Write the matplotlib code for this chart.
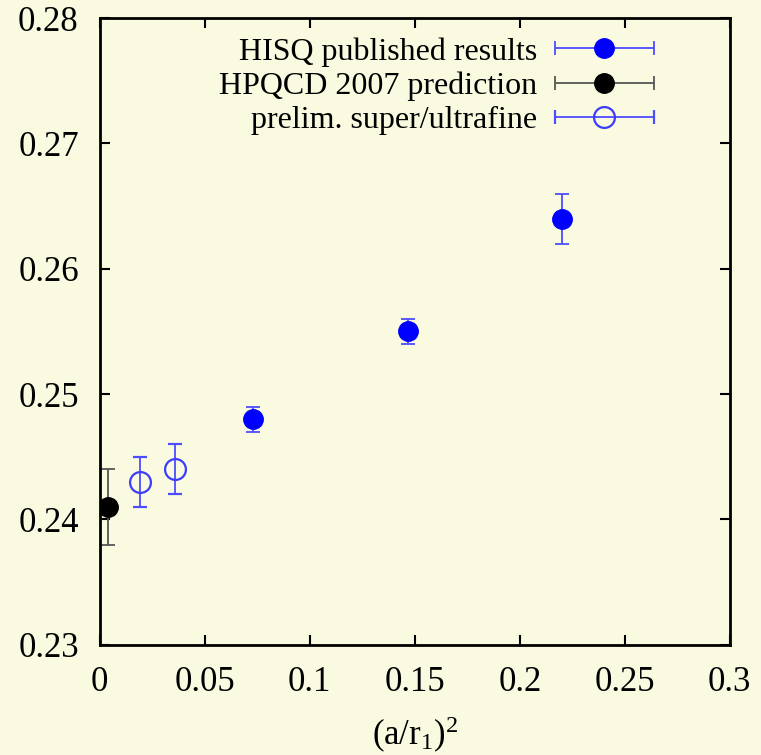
import numpy as np
import matplotlib.pyplot as plt
from matplotlib.legend_handler import HandlerErrorbar

# data
hisq_x = [0.073, 0.147, 0.220]
hisq_y = [0.248, 0.255, 0.264]
hisq_err = [0.001, 0.001, 0.002]

hpqcd_x = [0.004]
hpqcd_y = [0.241]
hpqcd_err = [0.003]

prelim_x = [0.019, 0.036]
prelim_y = [0.243, 0.244]
prelim_err = [0.002, 0.002]

labels = ["HISQ published results", "HPQCD 2007 prediction", "prelim. super/ultrafine"]

bg = "#fafae0"
plt.rcParams['font.family'] = ['Liberation Serif', 'DejaVu Serif']
plt.rcParams['mathtext.fontset'] = 'custom'
plt.rcParams['mathtext.rm'] = 'Liberation Serif'
plt.rcParams['mathtext.it'] = 'Liberation Serif'

fig = plt.figure(figsize=(7.61, 7.55), dpi=100, facecolor=bg)
ax = fig.add_axes([0.131, 0.146, 0.828, 0.830], facecolor=bg)

blue_style = dict(fmt='o', ms=14, color='#0000ff', ecolor='#4d4dff',
                  elinewidth=1.3, capsize=5, capthick=1.3)
black_style = dict(fmt='o', ms=14, color='black', ecolor='#555555',
                   elinewidth=1.3, capsize=5, capthick=1.3)
open_style = dict(fmt='o', ms=15, mfc='none', mec='#3c3cff', mew=1.6,
                  ecolor='#4d4dff', elinewidth=1.3, capsize=5, capthick=1.3)

ax.errorbar(hisq_x, hisq_y, yerr=hisq_err, **blue_style)
ax.errorbar(hpqcd_x, hpqcd_y, yerr=hpqcd_err, **black_style)
ax.errorbar(prelim_x, prelim_y, yerr=prelim_err, **open_style)

# legend handles with horizontal error bars (gnuplot style), not drawn in the plot
h1 = ax.errorbar([np.nan], [np.nan], xerr=[1], **blue_style)
h2 = ax.errorbar([np.nan], [np.nan], xerr=[1], **black_style)
h3 = ax.errorbar([np.nan], [np.nan], xerr=[1], **open_style)
hm = HandlerErrorbar(xerr_size=1.55)
ax.legend([h1, h2, h3], labels, loc='upper right', frameon=False, markerfirst=False,
          fontsize=23, handlelength=3.2, handletextpad=0.5, labelspacing=0.15,
          borderaxespad=0.0, bbox_to_anchor=(0.902, 0.99),
          handler_map={h1: hm, h2: hm, h3: hm})

ax.set_xlim(0, 0.3)
ax.set_ylim(0.23, 0.28)
ax.set_xticks([0, 0.05, 0.1, 0.15, 0.2, 0.25, 0.3])
ax.set_xticklabels(["0", "0.05", "0.1", "0.15", "0.2", "0.25", "0.3"])
ax.set_yticks([0.23, 0.24, 0.25, 0.26, 0.27, 0.28])
ax.set_yticklabels(["0.23", "0.24", "0.25", "0.26", "0.27", "0.28"])
ax.tick_params(direction='in', top=True, right=True, length=7, width=1.5,
               labelsize=25, pad=15)
for s in ax.spines.values():
    s.set_linewidth(2)
ax.set_xlabel("(a/r$_1$)$^2$", fontsize=25, labelpad=12)

fig.savefig("out.png", dpi=100, facecolor=bg)
